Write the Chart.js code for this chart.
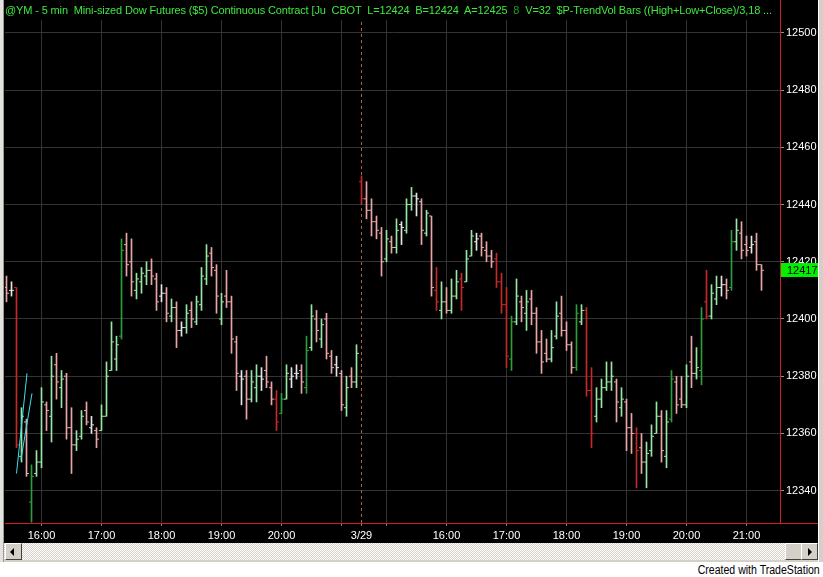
<!DOCTYPE html>
<html>
<head>
<meta charset="utf-8">
<script src="https://cdn.jsdelivr.net/npm/chart.js@4"></script>
<style>
  body { margin: 0; width: 823px; height: 577px; background: #fff; position: relative; overflow: hidden; font-family: "Liberation Sans", Arial, sans-serif; }
  #wrap { position: absolute; left: 0; top: 0; width: 823px; height: 543px; background: #000; }
  #header { position: absolute; left: 5px; top: 3px; font-size: 11px; letter-spacing: -0.13px; color: #3ee83e; white-space: pre; line-height: 14px; }
  #header span { color: #1e9e1e; }
  #leftEdge { position: absolute; left: 0; top: 0; width: 3px; height: 562px; background: #e4e2dc; border-right: 1px solid #9a9a9a; }
  #rightEdge { position: absolute; left: 818px; top: 0; width: 5px; height: 562px; background: #d4d0c8; border-left: 1px solid #fff; }
  #scroll { position: absolute; left: 4px; top: 543px; width: 814px; height: 17px;
    background: repeating-conic-gradient(#fff 0 25%, #d4d0c8 0 50%) 0 0 / 2px 2px; border-bottom: 2px solid #d4d0c8; }
  .btn { position: absolute; top: 0; width: 15px; height: 15px; background: #d4d0c8; border: 1px solid; border-color: #fff #404040 #404040 #fff; }
  .btn i { position: absolute; top: 4px; width: 0; height: 0; border-top: 4px solid transparent; border-bottom: 4px solid transparent; }
  #footer { position: absolute; right: 3px; top: 563px; font-size: 12px; color: #000; transform: scaleX(0.88); transform-origin: right top; }
</style>
</head>
<body>
<div id="wrap"><canvas id="chart" width="823" height="543"></canvas></div>
<div id="header">@YM - 5 min  Mini-sized Dow Futures ($5) Continuous Contract [Ju  CBOT  L=12424  B=12424  A=12425  <span>8</span>  V=32  $P-TrendVol Bars ((High+Low+Close)/3,18 ...</div>
<div id="leftEdge"></div>
<div id="rightEdge"></div>
<div id="scroll">
  <div class="btn" style="left:1px"><i style="left:4px;border-right:4px solid #000"></i></div>
  <div class="btn" style="left:781px"></div>
  <div class="btn" style="left:797px"><i style="left:6px;border-left:4px solid #000"></i></div>
</div>
<div id="footer">Created with TradeStation</div>
<script>
// 5-minute bars, first bar sits 7 slots before 16:00 of day one
const firstSlot = -7;
const opens = [
  12411, 12410, 12411, 12352, 12364, 12336, 12346, 12350, 12370, 12366,
  12384, 12376, 12380, 12362, 12356, 12359, 12368, 12362, 12361, 12361,
  12366, 12382, 12386, 12394, 12426, 12420, 12410, 12413, 12415, 12417,
  12414, 12408, 12409, 12401, 12404, 12396, 12397, 12403, 12399, 12405,
  12414, 12423, 12417, 12400, 12408, 12406, 12392, 12380, 12380, 12372,
  12376, 12380, 12382, 12376, 12372, 12367, 12372, 12379, 12381, 12382,
  12376, 12390, 12400, 12393, 12400, 12387, 12384, 12381, 12369, 12380,
  12378,
  12448, 12442, 12438, 12434, 12430, 12421, 12427, 12425, 12433, 12431,
  12440, 12443, 12441, 12430, 12436, 12410, 12403, 12406, 12403, 12408,
  12414, 12413, 12422, 12427, 12429, 12424, 12422, 12421, 12413, 12405,
  12386, 12399, 12406, 12402, 12407, 12402, 12392, 12388, 12386, 12394,
  12402, 12396, 12391, 12383, 12399, 12403, 12375, 12366, 12372, 12376,
  12378, 12378, 12369, 12371, 12362, 12360, 12355, 12350, 12354, 12360,
  12366, 12352, 12365, 12378, 12372, 12370, 12385, 12381, 12382, 12406,
  12401, 12407, 12411, 12412, 12411, 12427, 12430, 12426, 12425, 12427,
  12419
];
const highs = [
  12415, 12413, 12411, 12369, 12365, 12349, 12354, 12376, 12371, 12387,
  12388, 12382, 12381, 12369, 12361, 12368, 12371, 12366, 12362, 12370,
  12385, 12399, 12394, 12428, 12430, 12428, 12416, 12418, 12420, 12421,
  12416, 12412, 12411, 12407, 12406, 12399, 12405, 12406, 12408, 12418,
  12426, 12425, 12419, 12409, 12417, 12408, 12394, 12382, 12382, 12382,
  12384, 12383, 12387, 12378, 12375, 12374, 12384, 12383, 12384, 12384,
  12394, 12405, 12403, 12400, 12402, 12389, 12387, 12382, 12380, 12383,
  12391,
  12450, 12448, 12442, 12436, 12432, 12431, 12429, 12435, 12434, 12442,
  12446, 12444, 12442, 12438, 12436, 12418, 12413, 12411, 12414, 12417,
  12416, 12424, 12431, 12430, 12430, 12427, 12424, 12423, 12416, 12411,
  12401, 12414, 12408, 12410, 12410, 12404, 12396, 12393, 12396, 12406,
  12408, 12399, 12392, 12405, 12405, 12404, 12383, 12376, 12379, 12385,
  12385, 12379, 12376, 12372, 12367, 12362, 12360, 12357, 12363, 12371,
  12368, 12368, 12382, 12380, 12380, 12384, 12394, 12390, 12404, 12417,
  12412, 12415, 12415, 12414, 12431, 12435, 12434, 12429, 12429, 12430,
  12419
];
const lows = [
  12406, 12408, 12355, 12350, 12345, 12329, 12345, 12348, 12361, 12357,
  12372, 12369, 12358, 12346, 12354, 12358, 12363, 12360, 12355, 12361,
  12366, 12382, 12382, 12393, 12415, 12408, 12407, 12409, 12412, 12412,
  12403, 12406, 12399, 12399, 12390, 12394, 12395, 12397, 12398, 12403,
  12412, 12415, 12402, 12398, 12404, 12388, 12375, 12370, 12365, 12371,
  12371, 12375, 12376, 12370, 12361, 12367, 12372, 12376, 12379, 12374,
  12374, 12389, 12392, 12390, 12386, 12381, 12380, 12368, 12366, 12376,
  12376,
  12440, 12435, 12429, 12428, 12415, 12420, 12423, 12423, 12426, 12430,
  12438, 12436, 12426, 12429, 12408, 12403, 12400, 12402, 12402, 12407,
  12403, 12413, 12422, 12424, 12422, 12420, 12418, 12411, 12402, 12383,
  12382, 12398, 12399, 12396, 12398, 12388, 12381, 12385, 12385, 12393,
  12394, 12389, 12381, 12382, 12398, 12373, 12355, 12364, 12369, 12375,
  12375, 12364, 12366, 12354, 12353, 12341, 12346, 12341, 12352, 12360,
  12350, 12348, 12364, 12367, 12369, 12369, 12376, 12379, 12377, 12400,
  12400, 12405, 12408, 12407, 12410, 12424, 12421, 12422, 12423, 12417,
  12410
];
const closes = [
  12409, 12410, 12356, 12366, 12346, 12345, 12350, 12371, 12368, 12380,
  12378, 12379, 12362, 12356, 12358, 12366, 12364, 12363, 12358, 12366,
  12380, 12392, 12391, 12424, 12419, 12413, 12414, 12416, 12417, 12415,
  12406, 12409, 12402, 12404, 12396, 12397, 12402, 12400, 12406, 12415,
  12422, 12418, 12408, 12406, 12406, 12393, 12381, 12379, 12372, 12378,
  12380, 12379, 12378, 12372, 12364, 12372, 12381, 12380, 12381, 12378,
  12389, 12401, 12396, 12398, 12388, 12383, 12383, 12370, 12376, 12378,
  12388,
  12442, 12438, 12434, 12431, 12420, 12428, 12425, 12431, 12432, 12440,
  12443, 12442, 12431, 12437, 12411, 12406, 12406, 12403, 12408, 12413,
  12411, 12421, 12429, 12428, 12425, 12422, 12420, 12413, 12405, 12387,
  12399, 12408, 12404, 12406, 12402, 12392, 12385, 12386, 12390, 12401,
  12396, 12391, 12383, 12402, 12403, 12375, 12360, 12372, 12376, 12378,
  12380, 12371, 12372, 12362, 12360, 12354, 12350, 12353, 12359, 12366,
  12354, 12364, 12379, 12370, 12370, 12380, 12381, 12383, 12400, 12401,
  12409, 12411, 12412, 12410, 12427, 12431, 12424, 12424, 12426, 12419,
  12417
];
// bars the TrendVol study paints in the heavy shade
const heavyBars = [-5, -2, 16, 47, 48, 53, 64, 79, 84, 91, 92, 93, 94, 107, 109, 110, 119, 126, 132, 133, 138];

// time axis: hour marks (slot numbers) and their labels
const hourSlots = [0, 12, 24, 36, 48, 60, 64, 69, 81, 93, 105, 117, 129, 141];
const hourLabels = ['16:00', '17:00', '18:00', '19:00', '20:00', '', '3/29', '', '16:00', '17:00', '18:00', '19:00', '20:00', '21:00'];
const dateBreakSlot = 64;

const priceTicks = [12340, 12360, 12380, 12400, 12420, 12440, 12460, 12480, 12500];
const lastPrice = 12417;

// cyan trendlines drawn on the chart (slot, price)
const trendA = [[-5, 12346], [-2.9, 12381]];
const trendB = [[-4.1, 12351], [-1.9, 12374]];

const yMin = 12328.7, yMax = 12504.5;

function barColor(i) {
  let d = closes[i] - opens[i];
  let heavy = heavyBars.includes(firstSlot + i);
  if (Math.abs(d) <= 1) return '#e4e4e4';
  if (d > 0) return heavy ? '#2f9e3a' : '#98e6a4';
  return heavy ? '#c42a2a' : '#eaa6a6';
}

let colors = opens.map((_, i) => barColor(i));
let rangeData = opens.map((_, i) => ({x: firstSlot + i, y: [lows[i], highs[i]]}));
let openData = opens.map((v, i) => ({x: firstSlot + i - 0.3, y: v}));
let closeData = closes.map((v, i) => ({x: firstSlot + i + 0.3, y: v}));

const framePlugin = {
  id: 'frame',
  afterDraw(chart) {
    const {ctx, chartArea, scales} = chart;
    ctx.save();
    ctx.strokeStyle = '#d02020';
    ctx.lineWidth = 1;
    ctx.beginPath();
    ctx.moveTo(chartArea.right + 0.5, 0);
    ctx.lineTo(chartArea.right + 0.5, chartArea.top);
    ctx.moveTo(chartArea.right, chartArea.bottom + 0.5);
    ctx.lineTo(chart.width - 5, chartArea.bottom + 0.5);
    ctx.stroke();
    // last price marker
    let y = scales.y.getPixelForValue(lastPrice);
    ctx.fillStyle = '#00f000';
    ctx.fillRect(chartArea.right + 1, Math.round(y) - 7, 37, 14);
    ctx.fillStyle = '#000';
    ctx.font = '11px "Liberation Sans", Arial, sans-serif';
    ctx.textBaseline = 'middle';
    ctx.fillText(String(lastPrice), chartArea.right + 7, Math.round(y) + 0.5);
    ctx.restore();
  }
};

new Chart(document.getElementById('chart'), {
  type: 'bar',
  data: {
    datasets: [
      {
        type: 'bar',
        data: rangeData,
        backgroundColor: colors,
        barThickness: 1,
        order: 2
      },
      {
        type: 'line',
        data: openData,
        showLine: false,
        pointStyle: 'line',
        pointRadius: 1,
        pointBorderWidth: 1,
        pointBorderColor: colors,
        order: 1
      },
      {
        type: 'line',
        data: closeData,
        showLine: false,
        pointStyle: 'line',
        pointRadius: 1,
        pointBorderWidth: 1,
        pointBorderColor: colors,
        order: 1
      },
      {
        type: 'line',
        data: [{x: dateBreakSlot, y: yMin}, {x: dateBreakSlot, y: yMax}],
        borderColor: '#b8603a',
        borderWidth: 1,
        borderDash: [3, 3],
        pointRadius: 0,
        order: 5
      },
      {
        type: 'line',
        data: trendA.map(p => ({x: p[0], y: p[1]})),
        borderColor: '#3fe0e8',
        borderWidth: 1,
        pointRadius: 0,
        order: 0
      },
      {
        type: 'line',
        data: trendB.map(p => ({x: p[0], y: p[1]})),
        borderColor: '#3fe0e8',
        borderWidth: 1,
        pointRadius: 0,
        order: 0
      }
    ]
  },
  options: {
    responsive: false,
    animation: false,
    devicePixelRatio: 1,
    layout: {padding: {left: 5, right: 5, top: 20, bottom: 0}},
    plugins: {legend: {display: false}, tooltip: {enabled: false}},
    scales: {
      x: {
        type: 'linear',
        min: -7.3,
        max: 147.7,
        offset: false,
        afterBuildTicks: (scale) => { scale.ticks = hourSlots.map(v => ({value: v})); },
        afterFit: (scale) => { scale.height = 20; },
        grid: {
          offset: false,
          color: (c) => (c.index !== undefined && hourLabels[c.index] === '3/29') ? 'rgba(0,0,0,0)' : '#343434',
          tickColor: '#808080',
          tickLength: 3
        },
        border: {color: '#d02020'},
        ticks: {
          autoSkip: false,
          maxRotation: 0,
          padding: 3,
          color: '#ffffff',
          font: {family: '"Liberation Sans", Arial', size: 11},
          callback: (v, i) => hourLabels[i]
        }
      },
      y: {
        type: 'linear',
        position: 'right',
        min: yMin,
        max: yMax,
        afterBuildTicks: (scale) => { scale.ticks = priceTicks.map(v => ({value: v})); },
        afterFit: (scale) => { scale.width = 38; },
        grid: {color: '#343434', tickColor: '#909090', tickLength: 4},
        border: {color: '#d02020'},
        ticks: {
          padding: 2,
          color: '#ffffff',
          font: {family: '"Liberation Sans", Arial', size: 11},
          callback: (v) => String(v)
        }
      }
    }
  },
  plugins: [framePlugin]
});
</script>
</body>
</html>
